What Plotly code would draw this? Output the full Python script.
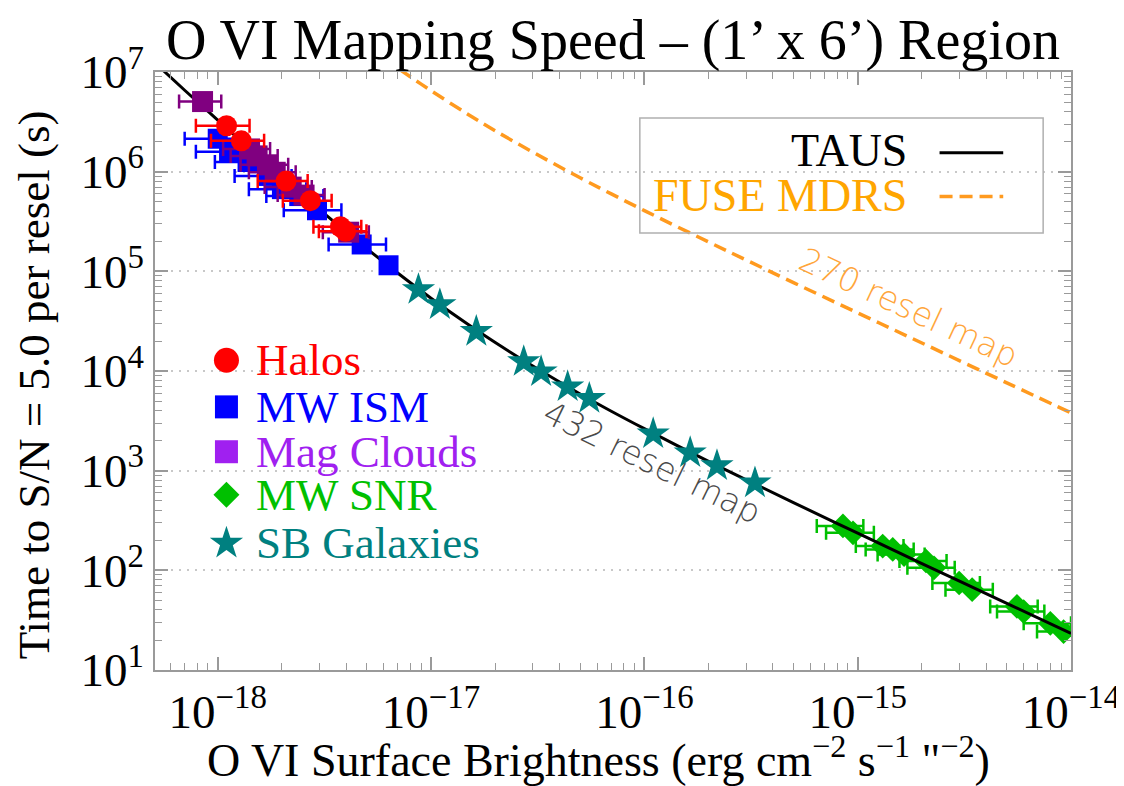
import plotly.graph_objects as go

# ---------------- data ----------------
# TAUS sensitivity curve (black solid)
taus_x = [5.0e-19, 5.6e-19, 7e-19, 1e-18, 1.5e-18, 2e-18, 3e-18, 5e-18, 7e-18, 1e-17,
          1.5e-17, 2e-17, 3e-17, 5e-17, 7e-17, 1e-16, 2e-16, 3e-16, 5e-16, 1e-15,
          2e-15, 5e-15, 1e-14]
taus_y = [1.27e7, 1.02e7, 6.56e6, 3.29e6, 1.51e6, 8.80e5, 4.17e5, 1.69e5, 9.56e4, 5.38e4,
          2.91e4, 1.93e4, 1.12e4, 5.88e3, 3.95e3, 2.64e3, 1.24e3, 8.11e2, 4.78e2, 2.36e2,
          1.17e2, 46.7, 23.3]

# FUSE MDRS curve (orange dashed)
fuse_x = [6e-18, 7e-18, 1e-17, 1.5e-17, 2e-17, 3e-17, 5e-17, 7e-17, 1e-16, 2e-16,
          3e-16, 5e-16, 1e-15, 2e-15, 5e-15, 1e-14]
fuse_y = [1.38e7, 1.09e7, 6.50e6, 3.73e6, 2.57e6, 1.57e6, 8.68e5, 5.98e5, 4.07e5, 1.97e5,
          1.30e5, 7.71e4, 3.83e4, 1.91e4, 7.61e3, 3.80e3]

# Halos (red circles)
halo_x = [1.10e-18, 1.29e-18, 2.09e-18, 2.72e-18, 3.76e-18, 3.98e-18]
halo_y = [2.89e6, 2.04e6, 8.05e5, 5.12e5, 2.80e5, 2.52e5]
halo_xerr = [0.31e-18, 0.36e-18, 0.55e-18, 0.70e-18, 0.95e-18, 1.00e-18]

# MW ISM (blue squares)
ism_x = [1.00e-18, 1.13e-18, 1.38e-18, 1.71e-18, 2.00e-18, 2.41e-18, 2.92e-18, 4.73e-18, 6.32e-18]
ism_y = [2.14e6, 1.58e6, 1.25e6, 9.06e5, 6.68e5, 5.69e5, 4.10e5, 1.86e5, 1.15e5]
ism_xerr = [0.30e-18, 0.34e-18, 0.41e-18, 0.51e-18, 0.60e-18, 0.72e-18, 0.88e-18, 1.42e-18, 0.0]

# Magellanic Clouds (purple squares)
mc_x = [8.49e-19, 1.41e-18, 1.53e-18, 1.71e-18, 1.86e-18, 2.21e-18, 2.54e-18, 4.11e-18]
mc_y = [5.05e6, 1.69e6, 1.44e6, 1.17e6, 9.86e5, 7.00e5, 5.82e5, 2.47e5]
mc_xerr = [1.9e-19, 0.35e-18, 0.38e-18, 0.43e-18, 0.46e-18, 0.55e-18, 0.63e-18, 1.00e-18]

# MW SNR (green diamonds)
snr_x = [8.53e-16, 9.51e-16, 1.31e-15, 1.46e-15, 1.65e-15, 2.09e-15, 2.28e-15, 2.99e-15,
         3.44e-15, 5.58e-15, 6.00e-15, 8.00e-15, 9.23e-15]
snr_y = [279, 238, 175, 162, 144, 124, 106, 74.6, 64.0, 43.4, 38.6, 29.4, 24.3]
snr_xerr = [2.1e-16, 2.4e-16, 3.3e-16, 3.7e-16, 4.1e-16, 5.2e-16, 5.7e-16, 7.5e-16,
            8.6e-16, 1.4e-15, 1.5e-15, 2.0e-15, 2.3e-15]

# SB Galaxies (teal stars)
sb_x = [8.73e-18, 1.10e-17, 1.63e-17, 2.72e-17, 3.28e-17, 4.37e-17, 5.52e-17, 1.10e-16,
        1.64e-16, 2.19e-16, 3.30e-16]
sb_y = [6.55e4, 4.62e4, 2.49e4, 1.24e4, 9.82e3, 6.93e3, 5.30e3, 2.34e3, 1.51e3, 1.12e3, 7.52e2]

x_tickvals = [1e-18, 1e-17, 1e-16, 1e-15, 1e-14]
x_ticktext = ["10<sup>−18</sup>", "10<sup>−17</sup>", "10<sup>−16</sup>", "10<sup>−15</sup>", "10<sup>−14</sup>"]
y_tickvals = [1e1, 1e2, 1e3, 1e4, 1e5, 1e6, 1e7]
y_ticktext = ["10<sup>1</sup>", "10<sup>2</sup>", "10<sup>3</sup>", "10<sup>4</sup>",
              "10<sup>5</sup>", "10<sup>6</sup>", "10<sup>7</sup>"]

legend_names = ["Halos", "MW ISM", "Mag Clouds", "MW SNR", "SB Galaxies"]
legend_colors = ["#ff0000", "#0000ff", "#a020f0", "#00c000", "#008080"]
legend_symbols = ["circle", "square", "square", "diamond", "star"]

SERIF = "Liberation Serif, Times New Roman, serif"
SANS = "DejaVu Sans, sans-serif"
RED, BLUE, PURPLE, GREEN, TEAL = "#ff0000", "#0000ff", "#800080", "#00c000", "#008080"
ORANGE = "#ff9a1f"
DASH = "13px,7px"

fig = go.Figure()

fig.add_trace(go.Scatter(x=fuse_x, y=fuse_y, mode="lines",
                         line=dict(color=ORANGE, width=3.5, dash=DASH),
                         line_shape="spline", showlegend=False, hoverinfo="skip"))


def err(arr, color):
    return dict(type="data", array=arr, visible=True, color=color, thickness=2.5, width=7)


fig.add_trace(go.Scatter(x=snr_x, y=snr_y, mode="markers",
                         marker=dict(symbol="diamond", size=19, color=GREEN, opacity=1),
                         error_x=err(snr_xerr, GREEN), showlegend=False))
fig.add_trace(go.Scatter(x=taus_x, y=taus_y, mode="lines", line=dict(color="black", width=3),
                         line_shape="spline", showlegend=False, hoverinfo="skip"))
fig.add_trace(go.Scatter(x=ism_x, y=ism_y, mode="markers",
                         marker=dict(symbol="square", size=20, color=BLUE, opacity=1),
                         error_x=err(ism_xerr, BLUE), showlegend=False))
fig.add_trace(go.Scatter(x=mc_x, y=mc_y, mode="markers",
                         marker=dict(symbol="square", size=21, color=PURPLE, opacity=1),
                         error_x=err(mc_xerr, PURPLE), showlegend=False))
fig.add_trace(go.Scatter(x=halo_x, y=halo_y, mode="markers",
                         marker=dict(symbol="circle", size=21, color=RED, opacity=1),
                         error_x=err(halo_xerr, RED), showlegend=False))
fig.add_trace(go.Scatter(x=sb_x, y=sb_y, mode="markers",
                         marker=dict(symbol="star", size=25, color=TEAL, opacity=1),
                         showlegend=False))

# ---- lower-left key (drawn on an overlay axis in 0..1 units) ----
key_y = [0.518, 0.440, 0.365, 0.293, 0.212]
key_sizes = [25, 23, 23, 20, 25]
fig.add_trace(go.Scatter(x=[0.078] * len(legend_names), y=key_y, mode="markers",
                         marker=dict(symbol=legend_symbols, size=key_sizes, color=legend_colors,
                                     opacity=1, line=dict(width=0)),
                         xaxis="x2", yaxis="y2", showlegend=False, hoverinfo="skip"))

annotations = []
for name, col, yy in zip(legend_names, legend_colors, key_y):
    annotations.append(dict(x=0.108, y=yy, xref="paper", yref="paper", text=name, showarrow=False,
                            xanchor="left", yanchor="middle",
                            font=dict(family=SERIF, size=45, color=col)))

annotations += [
    dict(x=0.823, y=0.868, xref="paper", yref="paper", text="TAUS", showarrow=False,
         xanchor="right", yanchor="middle", font=dict(family=SERIF, size=46, color="black")),
    dict(x=0.823, y=0.794, xref="paper", yref="paper", text="FUSE MDRS", showarrow=False,
         xanchor="right", yanchor="middle", font=dict(family=SERIF, size=46, color="#ffa500")),
    dict(x=0.5435, y=0.3478, xref="paper", yref="paper", text="432 resel map", showarrow=False,
         xanchor="center", yanchor="middle", textangle=26,
         font=dict(family=SANS, size=33, color="#4a4a4a", weight=300)),
    dict(x=0.8228, y=0.6054, xref="paper", yref="paper", text="270 resel map", showarrow=False,
         xanchor="center", yanchor="middle", textangle=25,
         font=dict(family=SANS, size=33, color="#ffa53a", weight=300)),
    # axis titles
    dict(x=0.4837, y=-0.146, xref="paper", yref="paper",
         text='O VI Surface Brightness (erg cm<sup>−2</sup> s<sup>−1</sup> "<sup>−2</sup>)',
         showarrow=False, xanchor="center", yanchor="middle",
         font=dict(family=SERIF, size=46, color="black")),
    dict(x=-0.1326, y=0.477, xref="paper", yref="paper", text="Time to S/N = 5.0 per resel (s)",
         showarrow=False, textangle=-90, xanchor="center", yanchor="middle",
         font=dict(family=SERIF, size=45, color="black")),
]

shapes = [
    dict(type="rect", xref="paper", yref="paper", x0=0.5293, x1=0.9696, y0=0.7308, y1=0.9231,
         line=dict(color="#b0b0b0", width=1.5), fillcolor="rgba(0,0,0,0)"),
    dict(type="line", xref="paper", yref="paper", x0=0.8565, x1=0.9260, y0=0.8651, y1=0.8651,
         line=dict(color="black", width=3)),
    dict(type="line", xref="paper", yref="paper", x0=0.8565, x1=0.9260, y0=0.7920, y1=0.7920,
         line=dict(color=ORANGE, width=3.5, dash=DASH)),
]

axis_common = dict(showline=True, linecolor="#9a9a9a", linewidth=1.5, mirror="allticks",
                   ticks="inside", ticklen=13, tickwidth=1.5, tickcolor="#9a9a9a",
                   zeroline=False, tickfont=dict(family=SERIF, size=47, color="black"))

# the page adds an 8px body margin, so the figure is shifted by 8px; compensate
fig.update_layout(
    width=1124, height=786,
    paper_bgcolor="white", plot_bgcolor="white",
    margin=dict(l=147, r=57, t=64, b=124),
    showlegend=False,
    title=dict(text="O VI Mapping Speed – (1’ x 6’) Region", x=0.5, xref="paper",
               y=1 - 31 / 786, yref="container", xanchor="center", yanchor="middle",
               font=dict(family=SERIF, size=56, color="black")),
    xaxis=dict(type="log", range=[-18.294, -14.0], tickmode="array", tickvals=x_tickvals,
               ticktext=x_ticktext, showgrid=False,
               minor=dict(ticks="inside", ticklen=7, tickcolor="#9a9a9a", tickwidth=1.2,
                          dtick="D1", showgrid=False),
               **axis_common),
    yaxis=dict(type="log", range=[1.0, 7.0], tickmode="array", tickvals=y_tickvals,
               ticktext=y_ticktext, showgrid=True, gridcolor="#c8c8c8", griddash="2px,6px",
               gridwidth=1.5,
               minor=dict(ticks="inside", ticklen=7, tickcolor="#9a9a9a", tickwidth=1.2,
                          dtick="D1", showgrid=False),
               **axis_common),
    xaxis2=dict(overlaying="x", range=[0, 1], visible=False, fixedrange=True),
    yaxis2=dict(overlaying="y", range=[0, 1], visible=False, fixedrange=True),
    annotations=annotations,
    shapes=shapes,
)

fig.write_html("out.html")
